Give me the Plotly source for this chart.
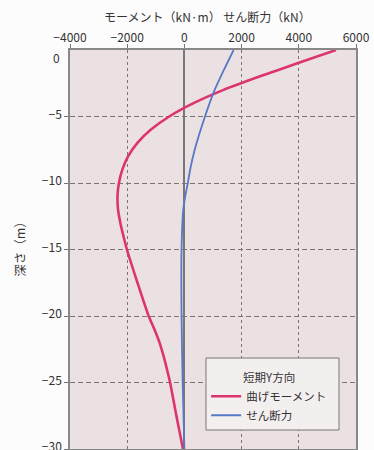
import plotly.graph_objects as go

# Depth profile (m) and member forces for the short-term Y-direction case
moment_depth = [0, -1, -2, -3, -4, -5, -6, -7, -8, -9, -10, -11, -12, -13,
                -14, -15, -17.5, -20, -21, -22, -23, -24, -25, -27.5, -30]
moment_knm = [5300, 3950, 2620, 1370, 320, -530, -1180, -1650, -1970, -2170,
              -2290, -2340, -2320, -2240, -2130, -2010, -1640, -1250, -1050,
              -870, -730, -610, -500, -280, -50]

shear_depth = [0, -1.5, -3.2, -5, -7.5, -9, -10, -11, -12, -15, -20, -25, -30]
shear_kn = [1720, 1380, 1020, 720, 360, 200, 120, 30, -40, -100, -100, -60, 0]

x_ticks = [-4000, -2000, 0, 2000, 4000, 6000]
y_ticks = [-5, -10, -15, -20, -25, -30]

FONT = "Noto Sans CJK JP"
TXT = "#333"


def minus(v):
    return f"{v}".replace("-", "−")


fig = go.Figure()
fig.add_trace(go.Scatter(
    x=moment_knm, y=moment_depth, mode="lines", name="曲げモーメント",
    line=dict(color="#dc356e", width=2.6, shape="spline", smoothing=0.6),
))
fig.add_trace(go.Scatter(
    x=shear_kn, y=shear_depth, mode="lines", name="せん断力",
    line=dict(color="#5878c8", width=1.8, shape="spline", smoothing=0.6),
))

# opaque frame behind the legend
legend_box = dict(type="rect", xref="paper", yref="paper",
                  x0=0.4755, x1=0.9406, y0=0.0476, y1=0.228,
                  fillcolor="#f4efef", line=dict(color="#777", width=1),
                  layer="above")

fig.update_layout(
    width=374, height=450,
    margin=dict(l=70, r=18, t=50, b=1),
    paper_bgcolor="#fdfcfc",
    plot_bgcolor="#ece1e2",
    font=dict(family=FONT, size=11, color=TXT),
    showlegend=True,
    shapes=[legend_box],
    legend=dict(
        title=dict(text="短期Y方向", side="top center",
                   font=dict(family=FONT, size=11.5, color=TXT)),
        x=0.476, y=0.206, xanchor="left", yanchor="top",
        bgcolor="rgba(0,0,0,0)", borderwidth=0,
        font=dict(family=FONT, size=11.5, color=TXT),
        itemwidth=30, tracegroupgap=0,
    ),
    annotations=[
        dict(text="モーメント（kN·m） せん断力（kN）", xref="paper", yref="paper",
             x=0.48, y=1.083, xanchor="center", yanchor="middle",
             showarrow=False, font=dict(family=FONT, size=12, color=TXT)),
        dict(text="深さ（m）", xref="paper", yref="paper",
             x=-0.175, y=0.509, xanchor="center", yanchor="middle",
             textangle=-90, showarrow=False,
             font=dict(family=FONT, size=12.5, color=TXT)),
        # depth 0 label, nudged below the top frame
        dict(text="0", xref="paper", yref="y", x=0, y=0,
             xanchor="right", yanchor="middle", xshift=-8, yshift=-7,
             showarrow=False, font=dict(family=FONT, size=12, color=TXT)),
    ],
)

fig.update_xaxes(
    side="top", range=[-4000, 6000], tickvals=x_ticks,
    ticktext=[minus(v) for v in x_ticks],
    tickfont=dict(family=FONT, size=12, color=TXT),
    ticks="outside", ticklen=4, tickcolor="#777", ticklabelstandoff=-3,
    showline=True, mirror=True, linecolor="#888", linewidth=1.5,
    showgrid=True, gridcolor="#7d7474", griddash="3px,3px", gridwidth=1.3,
    zeroline=True, zerolinecolor="#777", zerolinewidth=1.6,
    automargin=False,
)
fig.update_yaxes(
    range=[-30, 0], tickvals=y_ticks,
    ticktext=[minus(v) for v in y_ticks],
    tickfont=dict(family=FONT, size=12, color=TXT),
    ticks="outside", ticklen=4, tickcolor="#777", ticklabelshift=-2,
    ticklabeloverflow="allow",
    showline=True, mirror=True, linecolor="#888", linewidth=1.5,
    showgrid=True, gridcolor="#7d7474", griddash="5px,3px", gridwidth=1.3,
    zeroline=False,
    automargin=False,
)

fig.write_html("out.html")
